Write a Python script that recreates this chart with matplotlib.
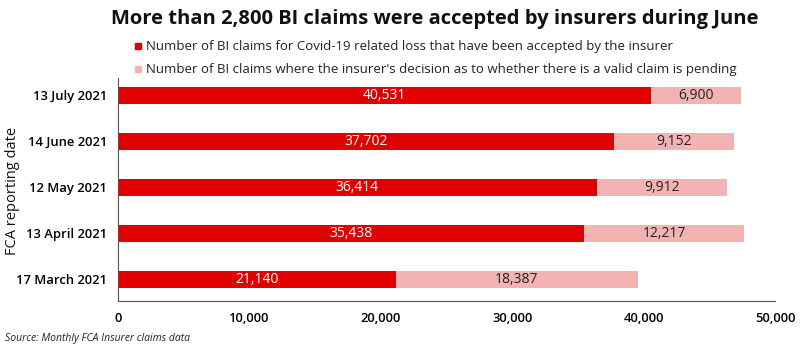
import matplotlib.pyplot as plt
from matplotlib.patches import Rectangle

# Données (FCA)
dates = ["17 March 2021", "13 April 2021", "12 May 2021", "14 June 2021", "13 July 2021"]
accepted = [21140, 35438, 36414, 37702, 40531]
pending = [18387, 12217, 9912, 9152, 6900]

RED = "#E00000"
PINK = "#F4B3B3"

plt.rcParams['font.family'] = ['Open Sans', 'DejaVu Sans']

fig = plt.figure(figsize=(8, 3.51), dpi=100)
ax = fig.add_axes([0.1475, 0.1425, 0.8215, 0.635])

y = range(len(dates))
h = 0.37
ax.barh(y, accepted, height=h, color=RED)
ax.barh(y, pending, left=accepted, height=h, color=PINK)

for i, (a, p) in enumerate(zip(accepted, pending)):
    ax.text(a / 2, i, f"{a:,}", ha="center", va="center", color="white", fontsize=10)
    ax.text(a + p / 2, i, f"{p:,}", ha="center", va="center", color="#222222", fontsize=10)

ax.set_xlim(0, 50000)
ax.set_ylim(-0.47, 4.37)
ax.set_xticks([0, 10000, 20000, 30000, 40000, 50000])
ax.set_xticklabels([f"{v:,}" for v in ax.get_xticks()])
ax.set_yticks(list(y))
ax.set_yticklabels(dates)
ax.tick_params(axis="both", length=0, labelsize=9.4, pad=8)
for lab in ax.get_yticklabels():
    lab.set_fontweight("semibold")
for lab in ax.get_xticklabels():
    lab.set_fontweight("semibold")

# titre de l'axe y, placé à la main
fig.text(0.016, 0.455, "FCA reporting date", rotation=90, ha="center", va="center",
         fontsize=10.5, color="#111111")

for s in ["top", "right"]:
    ax.spines[s].set_visible(False)
for s in ["left", "bottom"]:
    ax.spines[s].set_color("#555555")
    ax.spines[s].set_linewidth(0.8)

fig.text(0.544, 0.945, "More than 2,800 BI claims were accepted by insurers during June",
         ha="center", va="center", fontsize=14.5, fontweight="bold", color="#111111")

# Légende
legend_items = [
    (RED, "Number of BI claims for Covid-19 related loss that have been accepted by the insurer", 0.868),
    (PINK, "Number of BI claims where the insurer's decision as to whether there is a valid claim is pending", 0.803),
]
for col, txt, yy in legend_items:
    fig.patches.append(Rectangle((0.169, yy - 0.009), 0.0075, 0.018, transform=fig.transFigure,
                                 color=col, figure=fig))
    fig.text(0.183, yy, txt, ha="left", va="center", fontsize=9.55, color="#222222")

fig.text(0.006, 0.035, "Source: Monthly FCA Insurer claims data", ha="left", va="center",
         fontsize=7.5, style="italic", color="#222222")

fig.savefig("out.png", dpi=100)
